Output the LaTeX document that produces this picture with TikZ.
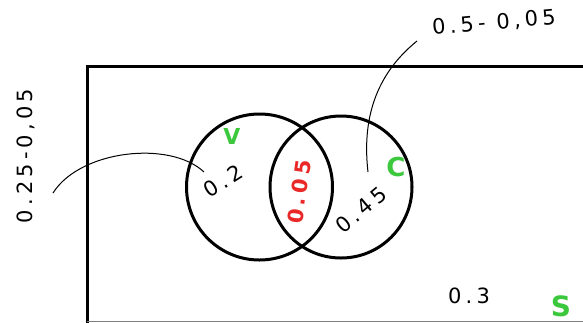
\documentclass[tikz,border=0pt]{standalone}
\usepackage{fontspec}
\setmainfont{DejaVu Sans}
\newfontfamily\handfont[LetterSpace=20]{DejaVu Sans}
\definecolor{hgreen}{RGB}{60,200,60}
\definecolor{hred}{RGB}{235,40,40}
\tikzset{
  frame/.style={line width=3pt,black},
  setcircle/.style={line width=3pt,black},
  leader/.style={line width=1pt,black},
  val/.style={font=\handfont\fontsize{21}{21}\selectfont,inner sep=0pt},
  setlbl/.style={font=\fontsize{26}{26}\selectfont\bfseries,text=hgreen,inner sep=0pt},
}
\begin{document}
\begin{tikzpicture}[x=1pt,y=-1pt]
\useasboundingbox (0,0) rectangle (583,322);
\fill[white] (0,0) rectangle (583,322);
\draw[frame] (600,66) -- (87,66) -- (87,330);
\draw[gray,line width=1pt] (87,321.5) -- (583,321.5);
\draw[setcircle] (259.5,187) circle[radius=73pt];
\draw[setcircle] (341,187) circle[radius=71pt];
\node[setlbl,font=\fontsize{22}{22}\selectfont\bfseries] (V) at (232,136) {V};
\node[setlbl] (C) at (396,167) {C};
\node[setlbl,font=\fontsize{28}{28}\selectfont\bfseries] (S) at (561,306) {S};
\node[val,rotate=32] (a) at (223,181) {0.2};
\node[val,rotate=40] (b) at (361,210) {0.45};
\node[val,rotate=82,text=hred,font=\handfont\fontsize{21}{21}\selectfont\bfseries] (ab) at (299,192) {0.05};
\node[val] (n) at (469,296) {0.3};
\node[val,rotate=90] (lv) at (26,156) {0.25-0,05};
\node[val,rotate=5] (lc) at (494,23) {0.5- 0,05};
\coordinate (la) at (204,172);
\coordinate (lb) at (368,172);
\draw[leader] (53,193) .. controls (80,150) and (170,140) .. (la);
\draw[leader] (417,41) .. controls (375,75) and (362,120) .. (lb);
\end{tikzpicture}
\end{document}
